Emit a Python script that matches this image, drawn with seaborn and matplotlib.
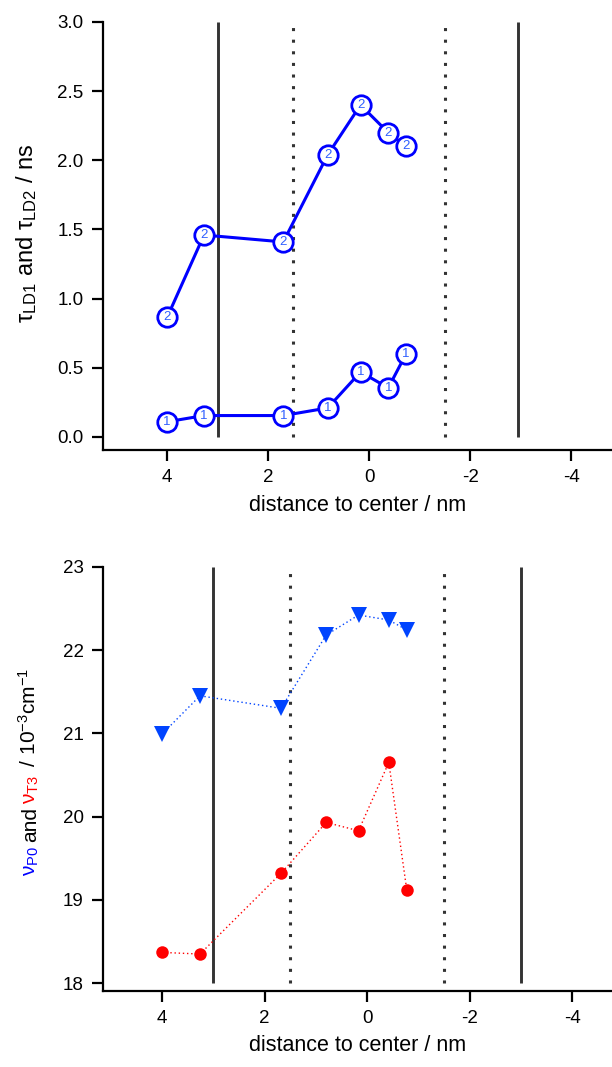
import matplotlib
matplotlib.use("Agg")
import matplotlib.pyplot as plt
import seaborn as sns

# distance to center / nm (top panel) and lifetimes / ns
dist = [4.0, 3.27, 1.70, 0.82, 0.17, -0.38, -0.73]
tau_ld1 = [0.11, 0.155, 0.155, 0.21, 0.47, 0.355, 0.60]
tau_ld2 = [0.865, 1.46, 1.41, 2.04, 2.40, 2.20, 2.10]

# bottom panel: wavenumbers / 10^3 cm^-1
dist_nu = [4.0, 3.26, 1.68, 0.80, 0.17, -0.42, -0.77]
nu_p0 = [20.99, 21.45, 21.30, 22.18, 22.42, 22.36, 22.24]
nu_t3 = [18.37, 18.35, 19.32, 19.93, 19.83, 20.65, 19.12]

x_ticks = [4, 2, 0, -2, -4]
x_ticklabels = ["4", "2", "0", "-2", "-4"]
top_yticks = [0.0, 0.5, 1.0, 1.5, 2.0, 2.5, 3.0]
bot_yticks = [18, 19, 20, 21, 22, 23]
solid_top = [3.0, -2.95]
dotted_top = [1.5, -1.5]
solid_bot = [3.0, -3.0]
dotted_bot = [1.5, -1.5]

sns.set_style("ticks")
plt.rcParams["font.family"] = ["Liberation Sans", "DejaVu Sans"]
plt.rcParams["mathtext.fontset"] = "custom"
plt.rcParams["mathtext.rm"] = "Liberation Sans"
plt.rcParams["mathtext.it"] = "Liberation Sans:italic"
plt.rcParams["mathtext.bf"] = "Liberation Sans:bold"
plt.rcParams["axes.unicode_minus"] = False
for k in ["text.color", "axes.labelcolor", "xtick.color", "ytick.color", "axes.edgecolor"]:
    plt.rcParams[k] = "black"

W, H = 612, 1067
fig = plt.figure(figsize=(W / 100, H / 100), dpi=100)
ax1 = fig.add_axes([103 / W, 1 - 450 / H, 1 - 103 / W, 428 / H])
ax2 = fig.add_axes([103 / W, 1 - 990.7 / H, 1 - 103 / W, 424 / H])

dot_ls = (0, (1.0, 2.8))
gray = "#333333"

# top panel
ax1.vlines(solid_top, 0, 3.0, color=gray, lw=2.1, zorder=1)
ax1.vlines(dotted_top, 0, 3.0, color=gray, lw=2.2, linestyle=dot_ls, zorder=1)
for tau, lab in [(tau_ld1, "1"), (tau_ld2, "2")]:
    sns.lineplot(x=dist, y=tau, ax=ax1, sort=False, color="blue", lw=2.2,
                 marker="o", markersize=14, markerfacecolor="white",
                 markeredgecolor="blue", markeredgewidth=2.0, zorder=3)
    for xv, yv in zip(dist, tau):
        ax1.text(xv, yv, lab, fontsize=9.5, color="#2f5fff",
                 ha="center", va="center", zorder=4)

ax1.set_xlim(5.27, -4.81)
ax1.set_ylim(-0.094, 3.0)
ax1.set_yticks(top_yticks)
ax1.set_yticklabels([f"{v:.1f}" for v in top_yticks])

# bottom panel
ax2.vlines(solid_bot, 18, 23, color=gray, lw=2.1, zorder=1)
ax2.vlines(dotted_bot, 18, 23, color=gray, lw=2.2, linestyle=dot_ls, zorder=1)
sns.lineplot(x=dist_nu, y=nu_p0, ax=ax2, sort=False, color="#0044ff", lw=1.0,
             linestyle=(0, (1, 2)), marker="v", markersize=11.5,
             markeredgecolor="#0044ff", markeredgewidth=0, zorder=3)
sns.lineplot(x=dist_nu, y=nu_t3, ax=ax2, sort=False, color="#ff0000", lw=1.0,
             linestyle=(0, (1, 2)), marker="o", markersize=9,
             markeredgecolor="#ff0000", markeredgewidth=0, zorder=3)
ax2.set_xlim(5.15, -4.77)
ax2.set_ylim(17.91, 23.0)
ax2.set_yticks(bot_yticks)
ax2.set_yticklabels([str(v) for v in bot_yticks])

for ax in (ax1, ax2):
    sns.despine(ax=ax)
    ax.spines["left"].set_linewidth(1.6)
    ax.spines["bottom"].set_linewidth(1.6)
    ax.set_xticks(x_ticks)
    ax.set_xticklabels(x_ticklabels)
    ax.tick_params(axis="both", direction="out", length=8, width=1.6,
                   labelsize=13.5, pad=6, color="black")
    ax.set_xlabel("distance to center / nm", fontsize=15.5, labelpad=6)
    ax.set_ylabel("")
    ax.set_facecolor("white")

# top y label
fig.text(27 / W, 1 - 233 / H,
         r"$\mathrm{τ}_{\mathrm{LD1}}$ and $\mathrm{τ}_{\mathrm{LD2}}$ / ns",
         fontsize=17, rotation=90, ha="center", va="center")

# bottom y label built from coloured pieces
renderer = fig.canvas.get_renderer()
pieces = [(r"$\mathrm{ν}_{\mathrm{P0}}$", "blue"),
          ("and", "black"),
          (r"$\mathrm{ν}_{\mathrm{T3}}$", "red"),
          (r" / 10$^{\mathrm{-3}}$cm$^{\mathrm{-1}}$", "black")]
gap = 3
texts = []
for s, c in pieces:
    t = fig.text(36 / W, 0, s, color=c, fontsize=15, rotation=90,
                 rotation_mode="anchor", ha="left", va="baseline")
    texts.append(t)
lengths = [t.get_window_extent(renderer).height for t in texts]
y0 = (H - 772) - (sum(lengths) + gap * (len(texts) - 1)) / 2
for t, L in zip(texts, lengths):
    t.set_position((36 / W, y0 / H))
    y0 += L + gap

fig.savefig("out.png", dpi=100, facecolor="white")
